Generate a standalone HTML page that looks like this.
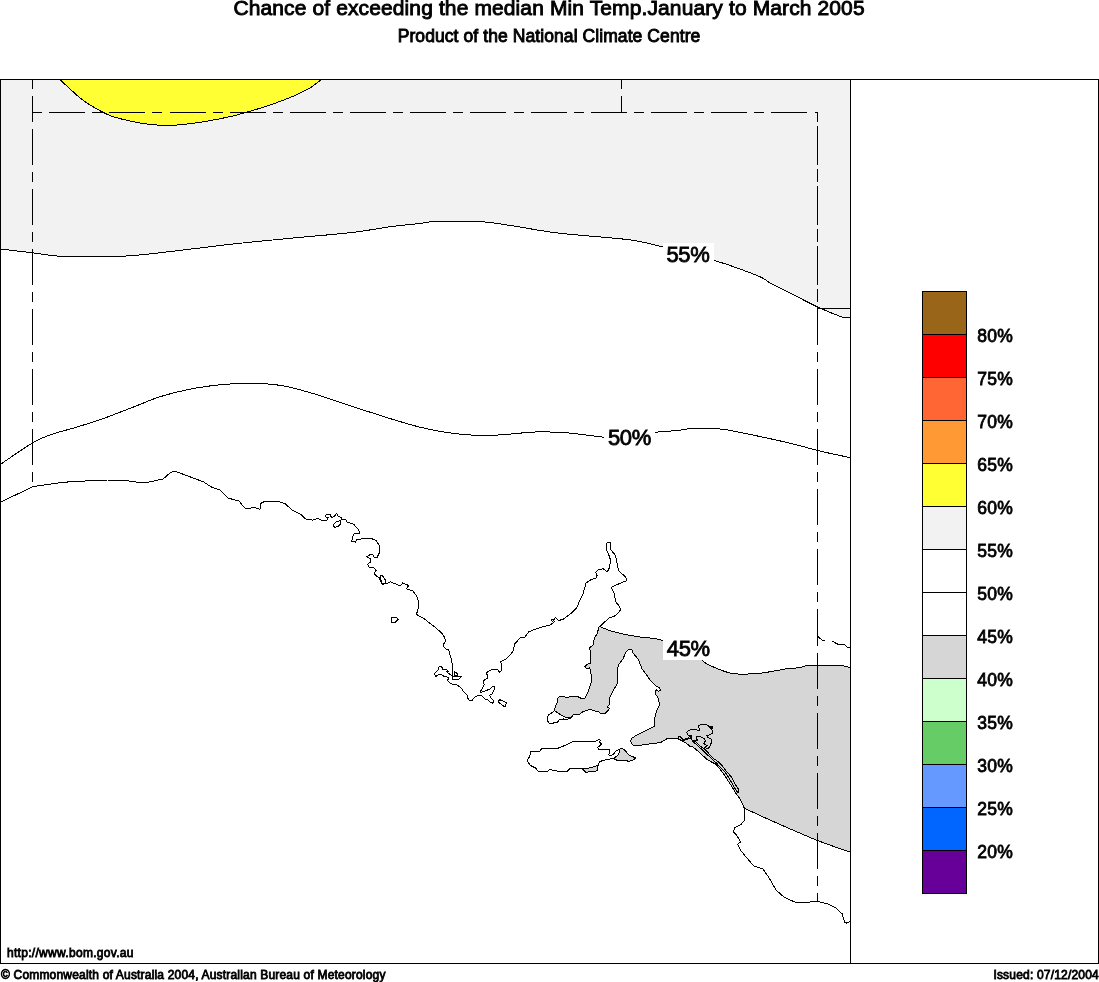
<!DOCTYPE html>
<html lang="en"><head><meta charset="utf-8"><title>Chance of exceeding the median Min Temp. January to March 2005</title>
<style>
html,body{margin:0;padding:0;background:#fff;}
body{width:1099px;height:982px;overflow:hidden;position:relative;font-family:"Liberation Sans",sans-serif;}
svg{position:absolute;left:0;top:0;display:block;}
text{font-family:"Liberation Sans",sans-serif;fill:#000;}
.ln{fill:none;stroke:#000;stroke-width:1;shape-rendering:crispEdges;}
.cl{fill:none;stroke:#000;stroke-width:1;stroke-linejoin:round;shape-rendering:crispEdges;}
.t{stroke:#000;stroke-width:0.7px;}
.b{stroke:#000;stroke-width:0.9px;}
.l{stroke:#000;stroke-width:0.8px;}
.s{stroke:#000;stroke-width:0.8px;}
</style></head><body>
<svg width="1099" height="982" viewBox="0 0 1099 982">

<defs><clipPath id="land"><path d="M0,502.4 L33.1,486.6 L62.4,482.3 L96.8,480.3 L104.5,480.8 L107,480 L124.8,480.3 L137.6,482.3 L147.8,482.3 L163.1,479 L170.7,472.4 L174.5,471.1 L178.3,472.4 L203.8,482 L211.5,487.1 L220.4,490.2 L228,498.1 L239.5,501.1 L242,505 L245.9,508.8 L254.8,507.5 L259.9,509.3 L261.1,503.7 L261,503.4 L265.1,501 L280.4,502 L285.5,504 L292.6,510.5 L300.7,514.2 L305.8,519.1 L313,520.1 L318,518.3 L321.1,520.1 L327.2,520.1 L328.2,517.7 L325.2,516.7 L326.2,515 L330.3,514.6 L331.3,517.3 L334.3,516.7 L336.4,513.2 L338.4,516.7 L341.5,517.3 L341.5,519.7 L345.5,519.1 L346.6,521.8 L353.7,524.4 L358.8,529.5 L359.4,533.4 L353.7,534 L351.6,541.1 L355.3,542.1 L356.7,539.5 L370,538 L376.1,540.5 L379.8,546.2 L379.1,553.3 L377.1,557.4 L374.1,557 L373,554.7 L370,554.7 L366.3,556.8 L370,558.4 L371,561.5 L367.5,564.5 L369,567 L374.1,568 L376.1,570.6 L374.1,573.7 L377.1,576.7 L380.2,577.8 L382.2,583.9 L388.3,582.9 L390.3,581.8 L400.5,585.9 L402.6,582.9 L408.7,585.5 L406.6,589 L412.7,590.6 L416.8,596.1 L418.9,602.2 L417.8,610.3 L416.4,614.4 L422.9,617.9 L433.1,625.6 L441.3,632.7 L444.3,636.8 L445.5,640 L445,642.3 L443.2,644.5 L443.7,646.8 L446.4,649.1 L448.7,650 L450,654.6 L451.4,659.1 L452.3,664.6 L452.6,676.4 L449.6,674.1 L446.4,671.8 L448.2,671.4 L447.3,670 L443.2,669.8 L441.4,666.4 L439.1,666.4 L438.2,669.6 L434.1,673.7 L435.9,676.4 L438.2,674.6 L441.4,674.4 L444.1,676.4 L448.2,677.3 L448.7,679.3 L447.3,680 L449.1,682.3 L452.3,684.4 L456.4,684.8 L460.9,687.5 L463.2,691 L466.9,694.6 L467.8,698.2 L469.6,700.5 L472.3,700.1 L474.6,697.3 L477.8,695.3 L481.4,695.1 L485.1,699.1 L487.8,699.6 L490.5,702.3 L492.3,703.2 L493.7,701.9 L492.8,699.6 L490.5,697.3 L489.8,695.3 L492.3,693.7 L494.2,689.6 L494.6,686.4 L492.8,686.4 L489.6,689.1 L485.1,691 L481,692.3 L480.1,691.4 L481.9,689.6 L484.1,684.6 L483.2,681.9 L484.6,679.6 L487.3,678.7 L487.3,675 L486.4,673.2 L487.8,671.4 L492.3,669.6 L496.9,669.1 L498.5,670.5 L499.2,672.3 L501,670.9 L501.6,667.3 L501.4,663.7 L500.3,662.3 L502.3,660.5 L505.1,659.8 L509.6,655.5 L513.3,650.9 L514.6,644.1 L517.8,640.5 L519.8,638.1 L524.9,637.1 L529,631.6 L540.2,627.5 L550.3,624.9 L554.4,621.8 L553.4,619.4 L551.4,619.8 L552.4,621.8 L554.4,619.8 L555.4,617.4 L558.5,620.2 L562.6,619.8 L570.7,613.7 L576.8,607.6 L578.9,602.5 L582.9,594.3 L586,583.1 L591.1,579.7 L596.2,578 L597.2,575 L595.6,572.5 L598.2,569.5 L603.3,568.9 L607.4,571.9 L609.8,566.8 L610.4,559.7 L608.4,553.6 L606.4,549.5 L607,542.8 L609.4,542 L610.8,543.4 L610.8,549.5 L615.5,555.6 L617.1,563.8 L618.6,570.9 L625.7,577 L626.7,580.7 L620.6,583.1 L611.4,587.2 L614.5,594.3 L615.5,601.5 L619.6,606.6 L620.6,609.6 L617.6,613.7 L613.5,616.7 L609.4,617.8 L599.2,626.9 L598.4,628.5 L597.4,633.6 L594.3,637.7 L593.3,644.8 L589.2,647.9 L590.9,653 L590.3,663.1 L587.2,664.2 L584.8,666.8 L587.2,668.8 L589.7,667.8 L591.3,675.4 L591.9,680 L589.6,687.3 L587.3,693.6 L585,698.2 L581.9,698.7 L578.2,696.8 L571.8,696.6 L567.3,697.3 L562.7,696.8 L559.6,696.4 L557.7,698.2 L557.3,702.7 L555.5,705.5 L554.6,710.5 L552.7,712.3 L548.6,715 L547.3,717.3 L547.7,720.9 L549.1,723.5 L552.7,723.2 L557.7,722 L559.1,719.6 L563.2,718.9 L564.6,719.6 L568.2,719.1 L570.9,717.8 L573.2,715 L580,714.1 L582.8,711.7 L590,709.3 L594.6,710.9 L598.7,711.8 L600.5,713.4 L605.5,713.2 L607.8,710.9 L609.6,708.4 L607.3,706.8 L609.2,704.6 L610.1,696.4 L611.9,693.6 L614.6,688.2 L617.3,683.6 L617.8,680 L617.4,672.3 L618.2,665.2 L622.9,659.1 L625.9,651.9 L629,649.3 L632,649.9 L633,653 L638.1,659.1 L642.2,669.2 L646.3,674.3 L650.3,680.4 L655.4,685.5 L659.5,688 L660.5,690 L658.5,691.2 L656,689.6 L655.4,693.7 L658.5,698.8 L659.5,704.9 L656.5,711 L654.8,718.1 L654.4,726.3 L644.2,731.4 L636.1,735.4 L631.6,738.5 L630.4,741.5 L633,745 L642.2,745 L652.4,743.6 L660.5,742.6 L666.6,738.9 L674.3,738.2 L678.7,739.2 L683,741.4 L687.3,744 L690,746.6 L693,746.9 L697.3,750.6 L701.3,754.2 L707.2,759.5 L711.9,762.2 L715.8,764.1 L718.5,767.5 L721.8,771.4 L725.1,776.1 L728.4,781.4 L732.4,787.3 L735.7,793.3 L739.7,798.2 L740.7,800.2 L744.4,808.3 L744.8,819.8 L740.7,824.7 L734.6,827.6 L733.3,832 L737,835.7 L740.7,841.8 L737.8,844.3 L740.7,850.4 L745.6,856.5 L754.1,866.3 L762.7,868.7 L768.8,877.3 L776.1,890.2 L784.7,897.6 L796.9,902.9 L806.7,902.4 L816.5,901.2 L828.7,904.2 L836,907.8 L842.2,913.9 L844.6,922 L847,923.2 L850.2,921.3 L850.5,905 L850.5,79.5 L0,79.5Z"/><path d="M530.1,751.5 L539.5,751.3 L541.9,748.7 L557.9,748.3 L564.9,745.4 L573.2,741.5 L595.7,741.2 L598.7,739.5 L600.4,740.1 L599.5,741.8 L601.6,744 L597.5,747.7 L598.7,749.2 L609.3,749.3 L609.9,751.9 L608.7,754.8 L610.5,756 L613.4,754.2 L615.8,751.3 L618.8,749.5 L621.1,748.3 L624.1,749.5 L628.8,754.8 L635.3,757.8 L634.7,759.3 L628.8,761.3 L624.1,760.2 L617,760.2 L613.4,758.4 L602.8,760.5 L599.8,761.7 L598.1,764.9 L597.5,770.8 L593.3,771.4 L585.6,772.3 L582.1,768.4 L570.3,768.4 L567.3,771.4 L559,771.4 L549.6,769.4 L547.8,771.4 L538.3,771.4 L535.4,767.9 L530.6,765.5 L527.1,760.8 L528.9,757.8 L530.6,753.1Z"/></clipPath><clipPath id="map"><rect x="0" y="79" width="851" height="885"/></clipPath></defs>
<g clip-path="url(#map)">
<path d="M0,79.5 L850.5,79.5 L850.5,317 C849.1,317.0 847.5,318.6 842,316.9 C836.5,315.2 825.9,310.7 817.5,306.9 C809.1,303.1 799.5,297.8 791.7,293.9 C784.0,290.0 776.2,286.3 771,283.5 C765.8,280.7 766.7,279.8 760.4,277 C754.1,274.2 740.9,269.3 733,266.5 C725.1,263.7 716.3,261.1 713,260 L664.5,247.5 C661.6,246.8 653.9,244.4 647,243 C640.1,241.6 638.4,240.8 623.4,239.1 C608.4,237.4 575.9,235.2 557,232.9 C538.1,230.6 523.0,227.3 510,225.4 C496.9,223.5 491.1,222.2 478.7,221.5 C466.3,220.8 445.4,221.2 435.6,221.5 C425.8,221.8 427.4,222.7 420,223.5 C412.6,224.3 402.3,225.1 391,226.6 C379.7,228.1 368.3,230.6 352,232.5 C335.7,234.4 312.9,236.1 293.4,238 C273.8,239.9 254.3,241.7 234.7,243.8 C215.1,246.0 191.7,249.1 176,250.9 C160.3,252.7 150.6,253.9 140.8,254.8 C131.0,255.7 129.8,256.1 117.4,256.3 C105.0,256.6 77.6,256.4 66.5,256.3 C55.4,256.2 56.6,256.0 50.9,255.4 C45.1,254.8 40.5,253.9 32,252.8 C23.5,251.7 5.3,249.6 0,248.9Z" fill="#f2f2f2"/>
<path d="M59.7,79.5 C61.0,80.7 63.8,83.2 67.3,86.4 C70.8,89.6 76.5,95.2 81,98.7 C85.5,102.2 89.6,104.8 94.6,107.7 C99.6,110.6 105.1,113.7 111,115.9 C116.9,118.1 123.6,119.6 130,121 C136.4,122.4 142.8,123.6 149.2,124.3 C155.6,125.0 161.9,125.5 168.3,125.4 C174.7,125.4 180.6,124.8 187.4,124 C194.2,123.2 202.0,122.1 209.3,120.8 C216.6,119.5 223.7,118.1 231,116.4 C238.3,114.7 245.7,112.6 253,110.4 C260.3,108.2 268.0,105.7 274.8,103.3 C281.6,100.9 288.0,98.5 293.9,95.9 C299.8,93.3 305.8,90.4 310.3,87.7 C314.9,85.0 319.4,80.9 321.2,79.5" fill="#ffff33" stroke="#000" stroke-width="1" shape-rendering="crispEdges"/>
<g clip-path="url(#land)"><path d="M599.3,626.5 C601.8,627.4 608.0,630.3 614.6,632 C621.2,633.7 632.3,635.8 639,636.9 C645.7,638.0 651.0,637.9 655,638.5 C659.0,639.1 661.7,640.3 663,640.7 L702,660 C702.7,660.6 703.8,662.1 706.4,663.6 C709.0,665.1 713.9,667.2 717.8,668.8 C721.7,670.4 725.9,672.1 730,673 C734.1,673.9 737.0,674.2 742.3,674.2 C747.6,674.2 754.6,673.9 762,673 C769.4,672.1 781.1,669.6 786.6,668.8 C792.1,668.0 792.4,668.5 795,668.2 C797.6,667.9 799.6,667.5 802,667 C804.4,666.5 803.4,665.7 809.5,665.4 C815.6,665.1 832.4,665.2 838.6,665.4 C844.9,665.6 845.0,666.5 847,666.8 C849.0,667.1 849.9,667.3 850.5,667.4 L850.2,852.1 C844.6,850.1 829.0,845.1 816.5,840.1 C804.0,835.1 786.9,827.5 774.9,822.2 C762.9,816.9 749.5,810.6 744.4,808.3 L700,850 L560,800 L582.3,768.7 C583.5,768.6 587.6,768.3 589.8,767.9 C592.0,767.5 594.3,766.6 595.7,766.1 C597.1,765.6 597.7,765.1 598.1,764.9 L613.4,758.4 C614.1,757.9 616.6,756.5 617.6,755.4 C618.6,754.3 619.2,752.9 619.4,751.9 C619.6,750.9 618.9,749.9 618.8,749.5 L570.5,718 C569.8,717.9 567.7,717.9 566.4,717.5 C565.1,717.1 564.1,716.6 562.7,715.9 C561.3,715.2 559.6,714.1 558.2,713.2 C556.9,712.3 555.2,711.0 554.6,710.5 L545,700 L545,650Z" fill="#d6d6d6"/></g>
<path class="cl" d="M0,248.9 C5.3,249.6 23.5,251.7 32,252.8 C40.5,253.9 45.1,254.8 50.9,255.4 C56.6,256.0 55.4,256.2 66.5,256.3 C77.6,256.4 105.0,256.6 117.4,256.3 C129.8,256.1 131.0,255.7 140.8,254.8 C150.6,253.9 160.3,252.7 176,250.9 C191.7,249.1 215.1,246.0 234.7,243.8 C254.3,241.7 273.8,239.9 293.4,238 C312.9,236.1 335.7,234.4 352,232.5 C368.3,230.6 379.7,228.1 391,226.6 C402.3,225.1 412.6,224.3 420,223.5 C427.4,222.7 425.8,221.8 435.6,221.5 C445.4,221.2 466.3,220.8 478.7,221.5 C491.1,222.2 496.9,223.5 510,225.4 C523.0,227.3 538.1,230.6 557,232.9 C575.9,235.2 608.4,237.4 623.4,239.1 C638.4,240.8 640.1,241.6 647,243 C653.9,244.4 661.6,246.8 664.5,247.5"/>
<path class="cl" d="M713,260 C716.3,261.1 725.1,263.7 733,266.5 C740.9,269.3 754.1,274.2 760.4,277 C766.7,279.8 765.8,280.7 771,283.5 C776.2,286.3 784.0,290.0 791.7,293.9 C799.5,297.8 809.1,303.1 817.5,306.9 C825.9,310.7 836.5,315.2 842,316.9 C847.5,318.6 849.1,317.0 850.5,317"/>
<path class="cl" d="M0,464.7 C5.3,461.1 23.5,448.2 32,443.2 C40.5,438.2 43.2,437.4 50.9,434.6 C58.6,431.9 69.1,429.5 78.2,426.7 C87.3,423.9 96.5,420.9 105.6,417.7 C114.7,414.4 123.9,410.7 133,407.2 C142.1,403.7 151.3,399.5 160.4,396.6 C169.5,393.7 178.0,391.6 187.8,389.6 C197.6,387.7 208.6,385.9 219,384.9 C229.4,383.8 240.0,383.2 250.4,383.3 C260.9,383.4 271.3,383.9 281.7,385.6 C292.1,387.3 301.3,390.0 313,393.5 C324.7,397.0 339.0,402.2 352,406.4 C365.0,410.6 379.9,415.4 391.2,418.9 C402.5,422.4 411.3,425.0 420,427.2 C428.7,429.4 435.0,430.6 443.5,431.9 C452.0,433.2 461.8,434.5 470.9,435 C480.0,435.5 487.1,435.5 498.2,435 C509.3,434.5 525.6,432.2 537.4,431.9 C549.1,431.6 557.6,432.1 568.7,433 C579.8,433.9 598.0,436.6 603.9,437.3"/>
<path class="cl" d="M655,432.3 C659.2,431.9 673.5,430.9 680,430.2 C686.5,429.5 687.0,428.5 693.9,428.3 C700.8,428.1 711.5,428.0 721.3,429.1 C731.1,430.2 740.9,432.6 752.6,435 C764.3,437.4 780.8,441.0 791.7,443.6 C802.6,446.2 808.1,448.2 817.9,450.6 C827.7,453.0 845.1,456.5 850.5,457.7"/>
<path class="cl" d="M599.3,626.5 C601.8,627.4 608.0,630.3 614.6,632 C621.2,633.7 632.3,635.8 639,636.9 C645.7,638.0 651.0,637.9 655,638.5 C659.0,639.1 661.7,640.3 663,640.7"/>
<path class="cl" d="M702,660 C702.7,660.6 703.8,662.1 706.4,663.6 C709.0,665.1 713.9,667.2 717.8,668.8 C721.7,670.4 725.9,672.1 730,673 C734.1,673.9 737.0,674.2 742.3,674.2 C747.6,674.2 754.6,673.9 762,673 C769.4,672.1 781.1,669.6 786.6,668.8 C792.1,668.0 792.4,668.5 795,668.2 C797.6,667.9 799.6,667.5 802,667 C804.4,666.5 803.4,665.7 809.5,665.4 C815.6,665.1 832.4,665.2 838.6,665.4 C844.9,665.6 845.0,666.5 847,666.8 C849.0,667.1 849.9,667.3 850.5,667.4"/>
<path class="cl" d="M744.4,808.3 C749.5,810.6 762.9,816.9 774.9,822.2 C786.9,827.5 804.0,835.1 816.5,840.1 C829.0,845.1 844.6,850.1 850.2,852.1"/>
<path class="cl" d="M618.8,749.5 C618.9,749.9 619.6,750.9 619.4,751.9 C619.2,752.9 618.6,754.3 617.6,755.4 C616.6,756.5 614.1,757.9 613.4,758.4"/>
<path class="cl" d="M598.1,764.9 C597.7,765.1 597.1,765.6 595.7,766.1 C594.3,766.6 592.0,767.5 589.8,767.9 C587.6,768.3 583.5,768.6 582.3,768.7"/>
<path class="cl" d="M554.6,710.5 C555.2,711.0 556.9,712.3 558.2,713.2 C559.6,714.1 561.3,715.2 562.7,715.9 C564.1,716.6 565.1,717.1 566.4,717.5 C567.7,717.9 569.8,717.9 570.5,718"/>
<path class="cl" d="M0,502.4 L33.1,486.6 L62.4,482.3 L96.8,480.3 L104.5,480.8 L107,480 L124.8,480.3 L137.6,482.3 L147.8,482.3 L163.1,479 L170.7,472.4 L174.5,471.1 L178.3,472.4 L203.8,482 L211.5,487.1 L220.4,490.2 L228,498.1 L239.5,501.1 L242,505 L245.9,508.8 L254.8,507.5 L259.9,509.3 L261.1,503.7 L261,503.4 L265.1,501 L280.4,502 L285.5,504 L292.6,510.5 L300.7,514.2 L305.8,519.1 L313,520.1 L318,518.3 L321.1,520.1 L327.2,520.1 L328.2,517.7 L325.2,516.7 L326.2,515 L330.3,514.6 L331.3,517.3 L334.3,516.7 L336.4,513.2 L338.4,516.7 L341.5,517.3 L341.5,519.7 L345.5,519.1 L346.6,521.8 L353.7,524.4 L358.8,529.5 L359.4,533.4 L353.7,534 L351.6,541.1 L355.3,542.1 L356.7,539.5 L370,538 L376.1,540.5 L379.8,546.2 L379.1,553.3 L377.1,557.4 L374.1,557 L373,554.7 L370,554.7 L366.3,556.8 L370,558.4 L371,561.5 L367.5,564.5 L369,567 L374.1,568 L376.1,570.6 L374.1,573.7 L377.1,576.7 L380.2,577.8 L382.2,583.9 L388.3,582.9 L390.3,581.8 L400.5,585.9 L402.6,582.9 L408.7,585.5 L406.6,589 L412.7,590.6 L416.8,596.1 L418.9,602.2 L417.8,610.3 L416.4,614.4 L422.9,617.9 L433.1,625.6 L441.3,632.7 L444.3,636.8 L445.5,640 L445,642.3 L443.2,644.5 L443.7,646.8 L446.4,649.1 L448.7,650 L450,654.6 L451.4,659.1 L452.3,664.6 L452.6,676.4 L449.6,674.1 L446.4,671.8 L448.2,671.4 L447.3,670 L443.2,669.8 L441.4,666.4 L439.1,666.4 L438.2,669.6 L434.1,673.7 L435.9,676.4 L438.2,674.6 L441.4,674.4 L444.1,676.4 L448.2,677.3 L448.7,679.3 L447.3,680 L449.1,682.3 L452.3,684.4 L456.4,684.8 L460.9,687.5 L463.2,691 L466.9,694.6 L467.8,698.2 L469.6,700.5 L472.3,700.1 L474.6,697.3 L477.8,695.3 L481.4,695.1 L485.1,699.1 L487.8,699.6 L490.5,702.3 L492.3,703.2 L493.7,701.9 L492.8,699.6 L490.5,697.3 L489.8,695.3 L492.3,693.7 L494.2,689.6 L494.6,686.4 L492.8,686.4 L489.6,689.1 L485.1,691 L481,692.3 L480.1,691.4 L481.9,689.6 L484.1,684.6 L483.2,681.9 L484.6,679.6 L487.3,678.7 L487.3,675 L486.4,673.2 L487.8,671.4 L492.3,669.6 L496.9,669.1 L498.5,670.5 L499.2,672.3 L501,670.9 L501.6,667.3 L501.4,663.7 L500.3,662.3 L502.3,660.5 L505.1,659.8 L509.6,655.5 L513.3,650.9 L514.6,644.1 L517.8,640.5 L519.8,638.1 L524.9,637.1 L529,631.6 L540.2,627.5 L550.3,624.9 L554.4,621.8 L553.4,619.4 L551.4,619.8 L552.4,621.8 L554.4,619.8 L555.4,617.4 L558.5,620.2 L562.6,619.8 L570.7,613.7 L576.8,607.6 L578.9,602.5 L582.9,594.3 L586,583.1 L591.1,579.7 L596.2,578 L597.2,575 L595.6,572.5 L598.2,569.5 L603.3,568.9 L607.4,571.9 L609.8,566.8 L610.4,559.7 L608.4,553.6 L606.4,549.5 L607,542.8 L609.4,542 L610.8,543.4 L610.8,549.5 L615.5,555.6 L617.1,563.8 L618.6,570.9 L625.7,577 L626.7,580.7 L620.6,583.1 L611.4,587.2 L614.5,594.3 L615.5,601.5 L619.6,606.6 L620.6,609.6 L617.6,613.7 L613.5,616.7 L609.4,617.8 L599.2,626.9 L598.4,628.5 L597.4,633.6 L594.3,637.7 L593.3,644.8 L589.2,647.9 L590.9,653 L590.3,663.1 L587.2,664.2 L584.8,666.8 L587.2,668.8 L589.7,667.8 L591.3,675.4 L591.9,680 L589.6,687.3 L587.3,693.6 L585,698.2 L581.9,698.7 L578.2,696.8 L571.8,696.6 L567.3,697.3 L562.7,696.8 L559.6,696.4 L557.7,698.2 L557.3,702.7 L555.5,705.5 L554.6,710.5 L552.7,712.3 L548.6,715 L547.3,717.3 L547.7,720.9 L549.1,723.5 L552.7,723.2 L557.7,722 L559.1,719.6 L563.2,718.9 L564.6,719.6 L568.2,719.1 L570.9,717.8 L573.2,715 L580,714.1 L582.8,711.7 L590,709.3 L594.6,710.9 L598.7,711.8 L600.5,713.4 L605.5,713.2 L607.8,710.9 L609.6,708.4 L607.3,706.8 L609.2,704.6 L610.1,696.4 L611.9,693.6 L614.6,688.2 L617.3,683.6 L617.8,680 L617.4,672.3 L618.2,665.2 L622.9,659.1 L625.9,651.9 L629,649.3 L632,649.9 L633,653 L638.1,659.1 L642.2,669.2 L646.3,674.3 L650.3,680.4 L655.4,685.5 L659.5,688 L660.5,690 L658.5,691.2 L656,689.6 L655.4,693.7 L658.5,698.8 L659.5,704.9 L656.5,711 L654.8,718.1 L654.4,726.3 L644.2,731.4 L636.1,735.4 L631.6,738.5 L630.4,741.5 L633,745 L642.2,745 L652.4,743.6 L660.5,742.6 L666.6,738.9 L674.3,738.2 L678.7,739.2 L683,741.4 L687.3,744 L690,746.6 L693,746.9 L697.3,750.6 L701.3,754.2 L707.2,759.5 L711.9,762.2 L715.8,764.1 L718.5,767.5 L721.8,771.4 L725.1,776.1 L728.4,781.4 L732.4,787.3 L735.7,793.3 L739.7,798.2 L740.7,800.2 L744.4,808.3 L744.8,819.8 L740.7,824.7 L734.6,827.6 L733.3,832 L737,835.7 L740.7,841.8 L737.8,844.3 L740.7,850.4 L745.6,856.5 L754.1,866.3 L762.7,868.7 L768.8,877.3 L776.1,890.2 L784.7,897.6 L796.9,902.9 L806.7,902.4 L816.5,901.2 L828.7,904.2 L836,907.8 L842.2,913.9 L844.6,922 L847,923.2 L850.2,921.3"/>
<path class="cl" d="M452.6,676.4 L461.4,676.4 L458.7,679.6 L452.3,679.6 L452.3,676.4 L454.6,675.7 L454.1,671.8 L456.8,673.2 L457.8,675 L454.6,675.7"/>
<path class="cl" d="M530.1,751.5 L539.5,751.3 L541.9,748.7 L557.9,748.3 L564.9,745.4 L573.2,741.5 L595.7,741.2 L598.7,739.5 L600.4,740.1 L599.5,741.8 L601.6,744 L597.5,747.7 L598.7,749.2 L609.3,749.3 L609.9,751.9 L608.7,754.8 L610.5,756 L613.4,754.2 L615.8,751.3 L618.8,749.5 L621.1,748.3 L624.1,749.5 L628.8,754.8 L635.3,757.8 L634.7,759.3 L628.8,761.3 L624.1,760.2 L617,760.2 L613.4,758.4 L602.8,760.5 L599.8,761.7 L598.1,764.9 L597.5,770.8 L593.3,771.4 L585.6,772.3 L582.1,768.4 L570.3,768.4 L567.3,771.4 L559,771.4 L549.6,769.4 L547.8,771.4 L538.3,771.4 L535.4,767.9 L530.6,765.5 L527.1,760.8 L528.9,757.8 L530.6,753.1Z"/>
<path class="cl" d="M332.9,525.2 L336.4,521.8 L340.4,520.7 L341.1,523.2 L338.4,526.4 L334.9,527.3Z"/>
<path class="cl" d="M380.2,575.7 L382.2,575.3 L385.9,580.8 L385.3,583.9 L382.2,584.3 L379.8,579.8Z"/>
<path class="cl" d="M392,617.5 L396.9,617.5 L398.1,619.5 L395.4,622.2 L391.4,622.2Z"/>
<path class="cl" d="M498.2,701.9 L499.6,699.6 L506.4,702.6 L505.5,706.4 L504.2,706.4Z"/>
<path class="cl" d="M694.6,740.6 L700.6,746.3 L707.2,751.6 L709.2,754.2 L713.2,758.2 L717.8,761.5 L723.1,766.8 L727.1,772.1 L731.7,777.4 L735,784 L738.7,789.6 L738.7,792 L737.5,792.2 L735.7,789.6 L731.9,783 L727.9,776.4 L725.2,772.1 L720.5,767.5 L716.5,763.1 L711.5,758.6 L706.2,753.6 L700.9,748.6 L697,745 L692.6,741.6Z"/>
<path class="cl" d="M686.5,732.3 L688.2,730.6 L691.6,729.3 L696,729 L697.7,730.6 L699.4,730.2 L699,728 L698.1,726.3 L700.3,725 L703.8,724.1 L707.2,725 L709.4,726.7 L711.1,728.9 L712.4,728 L712.4,726.3 L710.7,726.7 L711.6,729.3 L712.9,731 L712.4,733.2 L709.8,734.5 L706.8,735.8 L708.1,737.5 L710.7,738.8 L712,741 L710.7,744.4 L709.8,747 L708.1,748.3 L705.5,749.2 L704.2,748.3 L705.5,747 L707.2,745.3 L705.1,744.9 L703.8,743.1 L705.5,741 L704.2,738.8 L701.6,737.1 L699.4,736.2 L696.4,736.2 L696,737.9 L697.3,740.1 L695.1,741 L693.4,741 L691.6,739.7 L691.2,735.8 L688.6,735.8 L687.7,734.5Z"/>
<path class="cl" d="M678.7,736.6 L678.2,738.4 L682.1,741 L687.3,739.2 L690.8,738.4 L690.3,736.2 L688.6,737.1 L687.7,738.4 L683,739.7 L679.5,736.2Z"/>
<path class="ln" d="M32.5,112 V486" stroke-dasharray="10 7 36 7"/>
<path class="ln" d="M32.5,79 V89 M32.5,96 V112 M621.5,79 V89 M621.5,96 V112"/>
<path class="ln" d="M32,112.5 H818" stroke-dasharray="10 7.1 36 7.1"/>
<path class="ln" d="M817.5,112 V636" stroke-dasharray="10 7 36 7"/>
<path class="ln" d="M851,308.5 H817.5 V112" stroke-dasharray="36 7 10 7"/>
<path class="ln" d="M817.5,636 V901" stroke-dasharray="10 7 36 7"/>
<path class="cl" d="M817.5,636 L822.4,640.5 L825,640.5 M832,641.1 L838.5,644.6 L844.5,644.6 L847.4,647.4 L850.5,647.4"/>
</g>
<rect x="663" y="243" width="51" height="21" fill="#fff"/>
<rect x="604.5" y="426" width="50.5" height="22" fill="#fff"/>
<rect x="663" y="637" width="51" height="23" fill="#fff"/>
<text class="l" x="666.5" y="262.2" font-size="22" letter-spacing="-0.4">55%</text>
<text class="l" x="608" y="445.2" font-size="22" letter-spacing="-0.4">50%</text>
<text class="l" x="666.8" y="655.5" font-size="22" letter-spacing="-0.4">45%</text>
<path class="ln" d="M0.5,79.5 H1098.5 V963.5 H0.5 Z M850.5,79.5 V963.5"/>
<rect x="922.5" y="291.5" width="44" height="43" fill="#996619" stroke="#000" stroke-width="1" shape-rendering="crispEdges"/>
<rect x="922.5" y="334.5" width="44" height="43" fill="#ff0000" stroke="#000" stroke-width="1" shape-rendering="crispEdges"/>
<rect x="922.5" y="377.5" width="44" height="43" fill="#ff6633" stroke="#000" stroke-width="1" shape-rendering="crispEdges"/>
<rect x="922.5" y="420.5" width="44" height="43" fill="#ff9933" stroke="#000" stroke-width="1" shape-rendering="crispEdges"/>
<rect x="922.5" y="463.5" width="44" height="43" fill="#ffff33" stroke="#000" stroke-width="1" shape-rendering="crispEdges"/>
<rect x="922.5" y="506.5" width="44" height="43" fill="#f2f2f2" stroke="#000" stroke-width="1" shape-rendering="crispEdges"/>
<rect x="922.5" y="549.5" width="44" height="43" fill="#ffffff" stroke="#000" stroke-width="1" shape-rendering="crispEdges"/>
<rect x="922.5" y="592.5" width="44" height="43" fill="#ffffff" stroke="#000" stroke-width="1" shape-rendering="crispEdges"/>
<rect x="922.5" y="635.5" width="44" height="43" fill="#d6d6d6" stroke="#000" stroke-width="1" shape-rendering="crispEdges"/>
<rect x="922.5" y="678.5" width="44" height="43" fill="#ccffcc" stroke="#000" stroke-width="1" shape-rendering="crispEdges"/>
<rect x="922.5" y="721.5" width="44" height="43" fill="#66cc66" stroke="#000" stroke-width="1" shape-rendering="crispEdges"/>
<rect x="922.5" y="764.5" width="44" height="43" fill="#6699ff" stroke="#000" stroke-width="1" shape-rendering="crispEdges"/>
<rect x="922.5" y="807.5" width="44" height="43" fill="#0066ff" stroke="#000" stroke-width="1" shape-rendering="crispEdges"/>
<rect x="922.5" y="850.5" width="44" height="43" fill="#660099" stroke="#000" stroke-width="1" shape-rendering="crispEdges"/>
<text class="l" x="977.2" y="341.9" font-size="17.5" letter-spacing="0.3">80%</text>
<text class="l" x="977.2" y="384.9" font-size="17.5" letter-spacing="0.3">75%</text>
<text class="l" x="977.2" y="427.9" font-size="17.5" letter-spacing="0.3">70%</text>
<text class="l" x="977.2" y="470.9" font-size="17.5" letter-spacing="0.3">65%</text>
<text class="l" x="977.2" y="513.9" font-size="17.5" letter-spacing="0.3">60%</text>
<text class="l" x="977.2" y="556.9" font-size="17.5" letter-spacing="0.3">55%</text>
<text class="l" x="977.2" y="599.9" font-size="17.5" letter-spacing="0.3">50%</text>
<text class="l" x="977.2" y="642.9" font-size="17.5" letter-spacing="0.3">45%</text>
<text class="l" x="977.2" y="685.9" font-size="17.5" letter-spacing="0.3">40%</text>
<text class="l" x="977.2" y="728.9" font-size="17.5" letter-spacing="0.3">35%</text>
<text class="l" x="977.2" y="771.9" font-size="17.5" letter-spacing="0.3">30%</text>
<text class="l" x="977.2" y="814.9" font-size="17.5" letter-spacing="0.3">25%</text>
<text class="l" x="977.2" y="857.9" font-size="17.5" letter-spacing="0.3">20%</text>
<text class="b" id="title" x="233.4" y="14.9" font-size="21" textLength="631.2">Chance of exceeding the median Min Temp.January to March 2005</text>
<text class="b" id="sub" x="397.7" y="42.4" font-size="17.5" textLength="302.6">Product of the National Climate Centre</text>
<text class="s" id="url" x="7" y="957" font-size="12" textLength="126.5">http://www.bom.gov.au</text>
<text class="s" id="copy" x="1" y="979" font-size="12" textLength="384.4">© Commonwealth of Australia 2004, Australian Bureau of Meteorology</text>
<text class="s" id="iss" x="993.4" y="979" font-size="12" textLength="105.4">Issued: 07/12/2004</text>
</svg>
</body></html>
